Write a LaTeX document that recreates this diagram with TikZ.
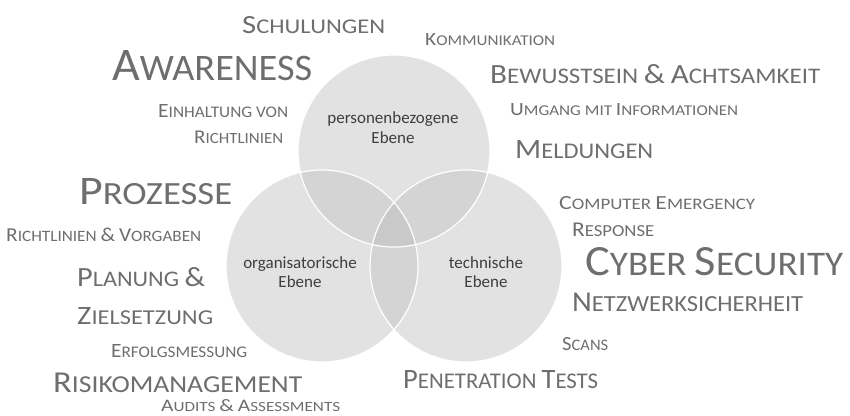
\documentclass[tikz,border=0pt]{standalone}
\usepackage{fontspec}
\setmainfont{Carlito}
\definecolor{txt}{HTML}{6E6E6E}
\definecolor{labc}{HTML}{3E3E3E}
\definecolor{c1}{HTML}{E2E2E2}
\definecolor{c2}{HTML}{D4D4D4}
\definecolor{c3}{HTML}{C9C9C9}
\makeatletter
\newcommand\C[1]{{\fontsize{\fpeval{1.25*\f@size}}{\fpeval{1.25*\f@size}}\selectfont #1}}
\makeatother
\newcommand\WW[3]{\resizebox{#1pt}{#2pt}{#3}}
\begin{document}
\begin{tikzpicture}[x=1pt,y=-1pt,
  w/.style={text=txt,inner sep=0pt,anchor=north west,font=\fontsize{20}{24}\selectfont},
  lab/.style={text=labc,align=center,inner sep=0pt,font=\fontsize{17}{19.5}\selectfont},
  ring/.style={circle,minimum size=192pt,inner sep=0pt}]
\useasboundingbox (0,0) rectangle (850,415);
% circles
\node[ring,fill=c1] (ctop) at (394,151) {};
\node[ring,fill=c1] (cleft) at (322,266) {};
\node[ring,fill=c1] (cright) at (466,266) {};
\begin{scope}
  \clip (394,151) circle (96pt);
  \fill[c2] (322,266) circle (96pt);
  \fill[c2] (466,266) circle (96pt);
\end{scope}
\begin{scope}
  \clip (322,266) circle (96pt);
  \fill[c2] (466,266) circle (96pt);
\end{scope}
\begin{scope}
  \clip (394,151) circle (96pt);
  \clip (322,266) circle (96pt);
  \fill[c3] (466,266) circle (96pt);
\end{scope}
\draw[white,line width=1.2pt] (394,151) circle (96pt) (322,266) circle (96pt) (466,266) circle (96pt);
% circle labels
\node[lab] (lt) at (393,127.5) {personenbezogene\\Ebene};
\node[lab] (ll) at (300,272) {organisatorische\\Ebene};
\node[lab] (lr) at (486,272) {technische\\Ebene};
% words
\node[w] (t1) at (242,16) {\WW{143}{17}{\C{S}CHULUNGEN}};
\node[w] (t2) at (112,50) {\WW{200}{30}{\C{A}WARENESS}};
\node[w] (t3) at (158,104) {\WW{130}{13}{\C{E}INHALTUNG VON}};
\node[w] (t4) at (194,131) {\WW{89}{12.5}{\C{R}ICHTLINIEN}};
\node[w] (t5) at (79,178) {\WW{153}{26}{\C{P}ROZESSE}};
\node[w] (t6) at (425,33) {\WW{130}{12}{\C{K}OMMUNIKATION}};
\node[w] (t7) at (490,64) {\WW{330}{19}{\C{B}EWUSSTSEIN \C{\&} \C{A}CHTSAMKEIT}};
\node[w] (t8) at (510,103) {\WW{228}{12}{\C{U}MGANG MIT \C{I}NFORMATIONEN}};
\node[w] (t9) at (515,140) {\WW{138}{18}{\C{M}ELDUNGEN}};
\node[w] (t10) at (559,196) {\WW{196}{13}{\C{C}OMPUTER \C{E}MERGENCY}};
\node[w] (t11) at (572,223) {\WW{82}{13.5}{\C{R}ESPONSE}};
\node[w] (t12) at (585,247) {\WW{258}{28}{\C{C}YBER \C{S}ECURITY}};
\node[w] (t13) at (572,293) {\WW{231}{18.5}{\C{N}ETZWERKSICHERHEIT}};
\node[w] (t14) at (562,337) {\WW{46}{13}{\C{S}CANS}};
\node[w] (t15) at (403,370) {\WW{195}{18}{\C{P}ENETRATION \C{T}ESTS}};
\node[w] (t16) at (6,228) {\WW{195}{13.5}{\C{R}ICHTLINIEN \C{\&} \C{V}ORGABEN}};
\node[w] (t17) at (77,267) {\WW{128}{19}{\C{P}LANUNG \C{\&}}};
\node[w] (t18) at (77,307) {\WW{136}{17}{\C{Z}IELSETZUNG}};
\node[w] (t19) at (111,344) {\WW{136}{13}{\C{E}RFOLGSMESSUNG}};
\node[w] (t20) at (53,373) {\WW{249}{19.5}{\C{R}ISIKOMANAGEMENT}};
\node[w] (t21) at (161,399) {\WW{179}{12}{\C{A}UDITS \C{\&} \C{A}SSESSMENTS}};
\end{tikzpicture}
\end{document}
